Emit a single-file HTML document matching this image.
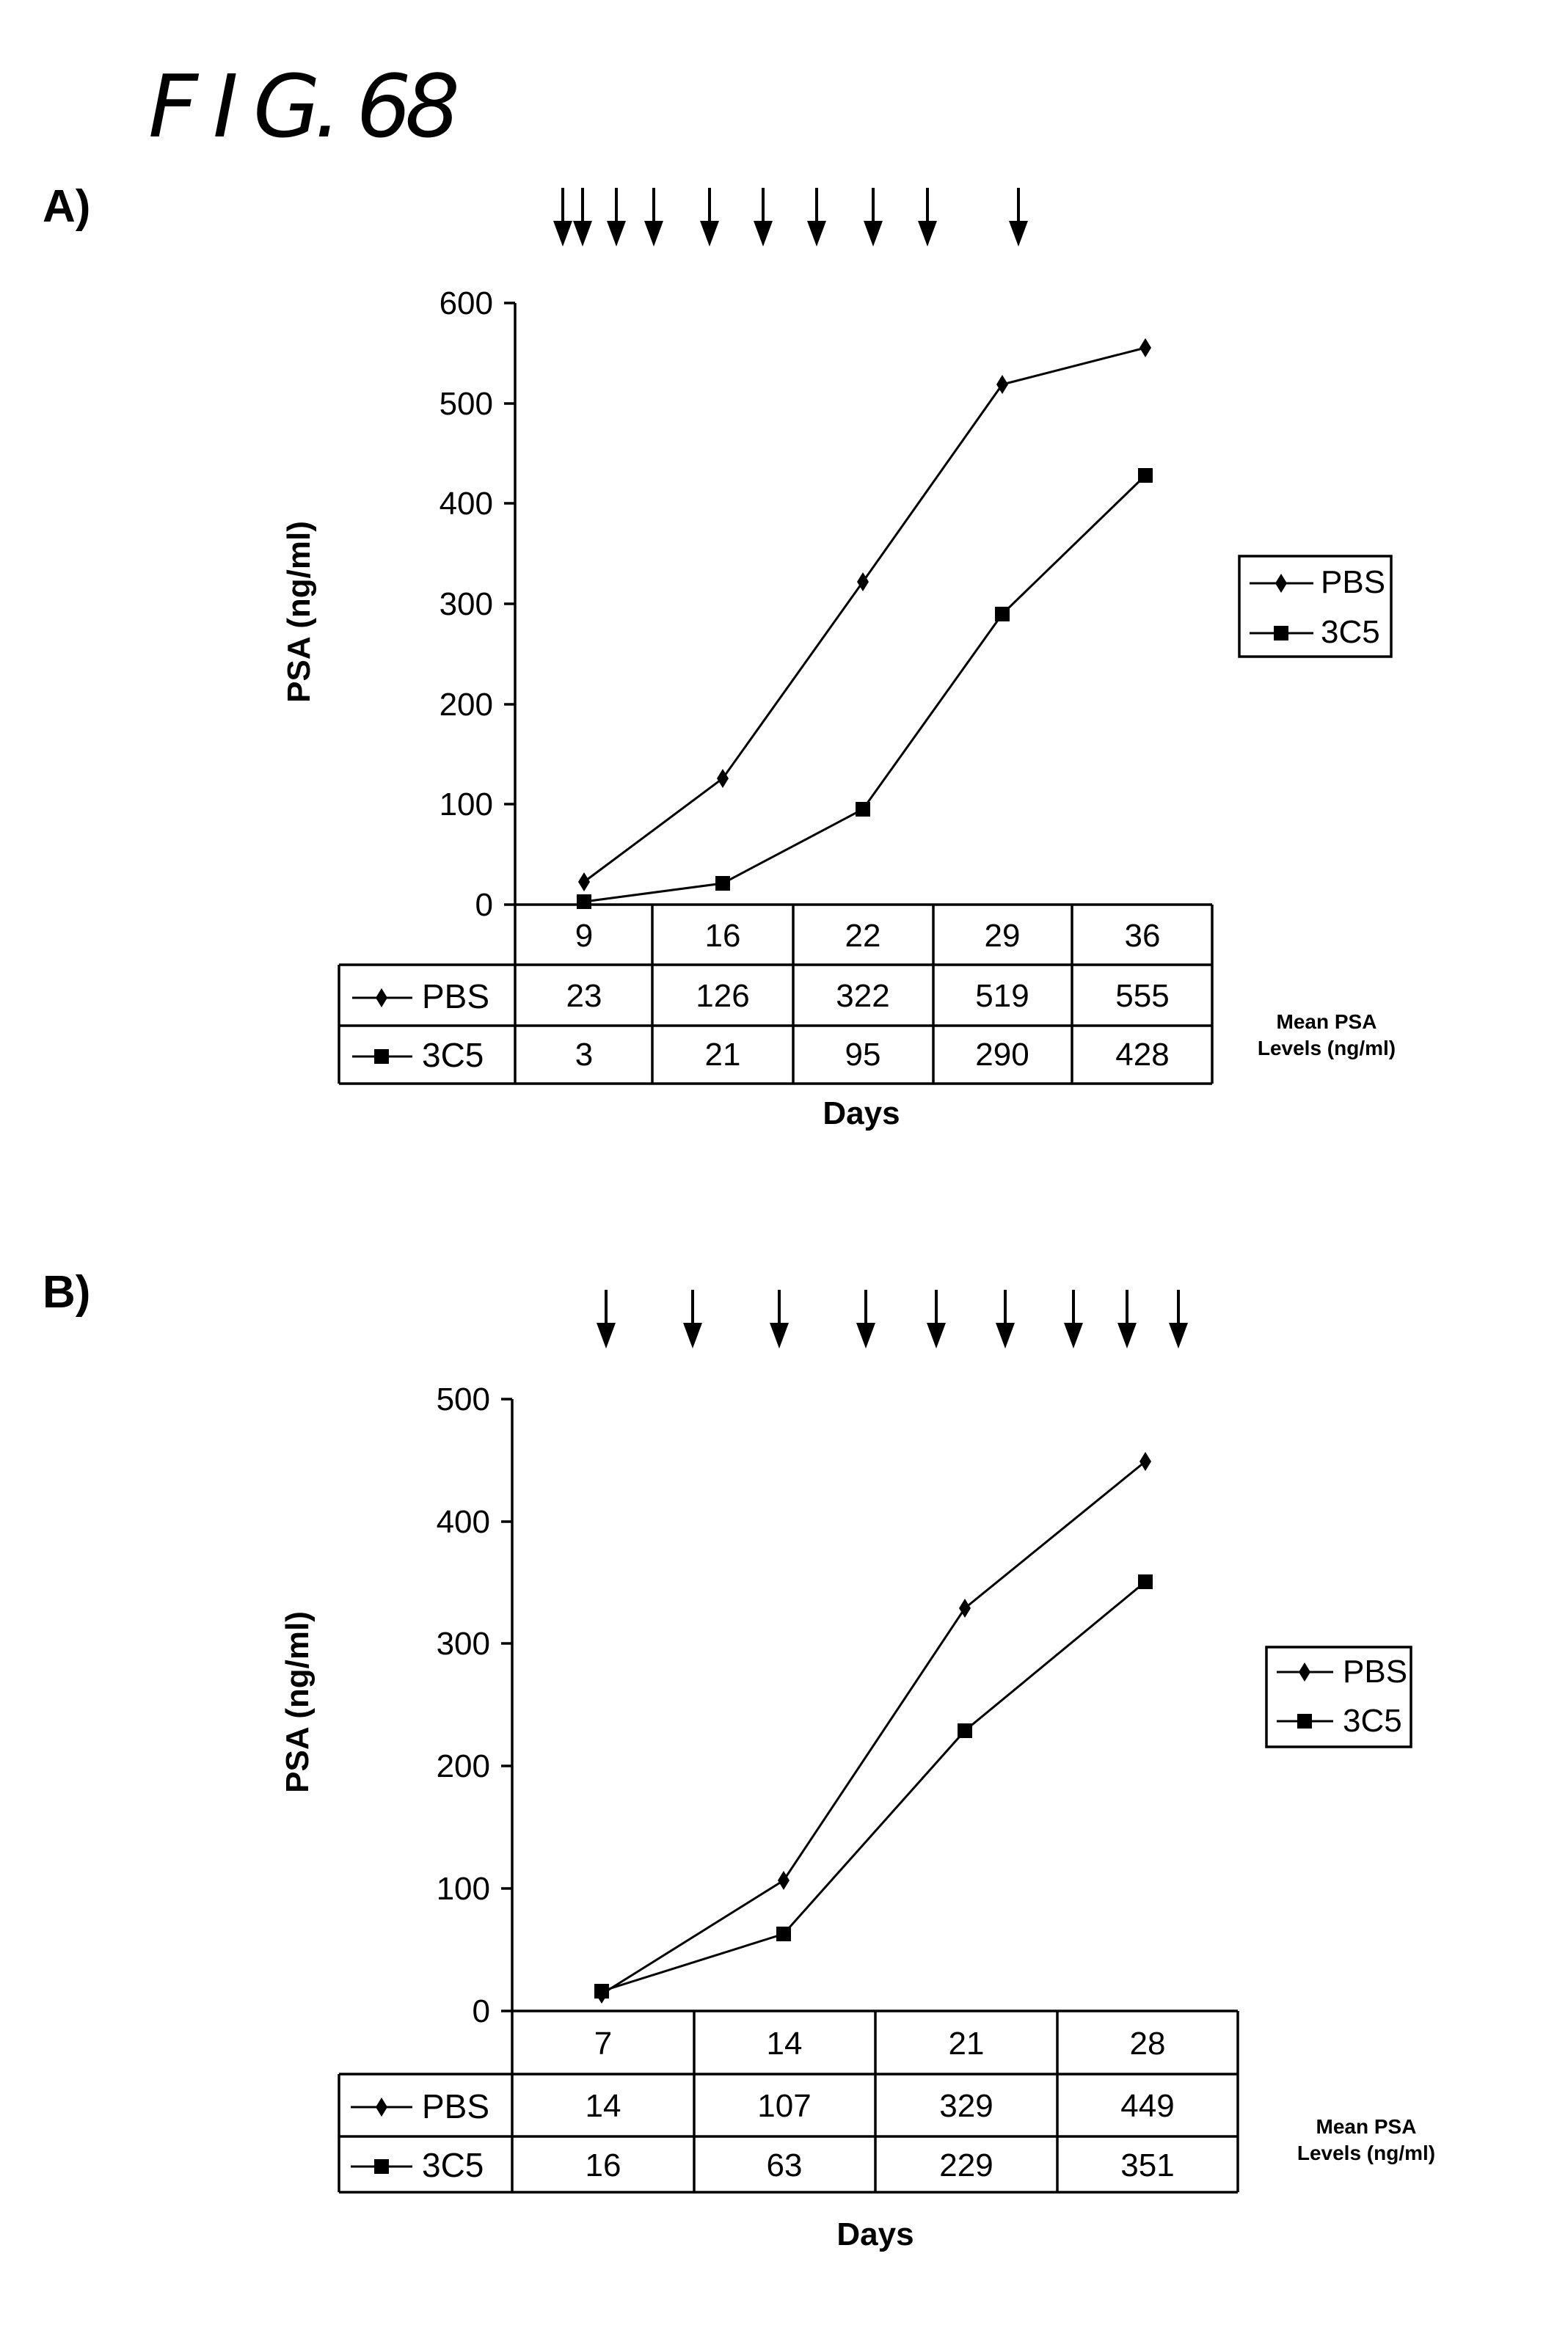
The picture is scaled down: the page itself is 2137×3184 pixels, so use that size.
<!DOCTYPE html>
<html><head><meta charset="utf-8"><style>
html,body{margin:0;padding:0;background:#fff;}
svg{display:block;}
text{font-family:"Liberation Sans",sans-serif;fill:#000;}
</style></head><body>
<svg width="2137" height="3184" viewBox="0 0 2137 3184" xmlns="http://www.w3.org/2000/svg">
<defs>
<g id="dia"><polygon points="0,-13 8,0 0,13 -8,0" fill="#000"/></g>
<g id="sq"><rect x="-10" y="-10" width="20" height="20" fill="#000"/></g>
<g id="arr"><line x1="0" y1="0" x2="0" y2="60" stroke="#000" stroke-width="4"/><polygon points="-13,45 13,45 0,80" fill="#000"/></g>
</defs>

<!-- Title -->
<text x="202" y="186" font-size="118" font-style="italic" font-weight="200" textLength="425" lengthAdjust="spacing" style="font-family:'DejaVu Sans',sans-serif">F I G. 68</text>

<!-- ============ PANEL A ============ -->
<text x="58" y="302" font-size="62" font-weight="bold">A)</text>
<g>
<use href="#arr" x="767" y="256"/><use href="#arr" x="794" y="256"/><use href="#arr" x="840" y="256"/>
<use href="#arr" x="891" y="256"/><use href="#arr" x="967" y="256"/><use href="#arr" x="1040" y="256"/>
<use href="#arr" x="1113" y="256"/><use href="#arr" x="1190" y="256"/><use href="#arr" x="1264" y="256"/>
<use href="#arr" x="1388" y="256"/>
</g>
<g stroke="#000" stroke-width="3.5" fill="none">
<line x1="702" y1="413" x2="702" y2="1477"/>
<line x1="687" y1="1233" x2="1652" y2="1233"/>
<line x1="687" y1="413" x2="702" y2="413"/><line x1="687" y1="550" x2="702" y2="550"/>
<line x1="687" y1="686" x2="702" y2="686"/><line x1="687" y1="823" x2="702" y2="823"/>
<line x1="687" y1="960" x2="702" y2="960"/><line x1="687" y1="1096" x2="702" y2="1096"/>
<line x1="1652" y1="1233" x2="1652" y2="1477"/>
<line x1="889" y1="1233" x2="889" y2="1477"/><line x1="1081" y1="1233" x2="1081" y2="1477"/>
<line x1="1272" y1="1233" x2="1272" y2="1477"/><line x1="1461" y1="1233" x2="1461" y2="1477"/>
<line x1="462" y1="1315" x2="1652" y2="1315"/><line x1="462" y1="1398" x2="1652" y2="1398"/>
<line x1="462" y1="1477" x2="1652" y2="1477"/><line x1="462" y1="1315" x2="462" y2="1477"/>
</g>
<g font-size="44" text-anchor="end">
<text x="672" y="428">600</text><text x="672" y="565">500</text><text x="672" y="701">400</text>
<text x="672" y="838">300</text><text x="672" y="975">200</text><text x="672" y="1111">100</text>
<text x="672" y="1248">0</text>
</g>
<g font-size="44" text-anchor="middle">
<text x="796" y="1290">9</text><text x="985" y="1290">16</text><text x="1176" y="1290">22</text><text x="1366" y="1290">29</text><text x="1557" y="1290">36</text>
<text x="796" y="1372">23</text><text x="985" y="1372">126</text><text x="1176" y="1372">322</text><text x="1366" y="1372">519</text><text x="1557" y="1372">555</text>
<text x="796" y="1452">3</text><text x="985" y="1452">21</text><text x="1176" y="1452">95</text><text x="1366" y="1452">290</text><text x="1557" y="1452">428</text>
</g>
<g stroke="#000" stroke-width="3"><line x1="480" y1="1360" x2="562" y2="1360"/><line x1="480" y1="1440" x2="562" y2="1440"/></g>
<use href="#dia" x="520" y="1360"/><use href="#sq" x="520" y="1440"/>
<text x="575" y="1374" font-size="46">PBS</text><text x="575" y="1454" font-size="46">3C5</text>
<polyline points="796,1202 985,1061 1176,793 1366,524 1561,474" fill="none" stroke="#000" stroke-width="3"/>
<polyline points="796,1229 985,1204 1176,1103 1366,837 1561,648" fill="none" stroke="#000" stroke-width="3"/>
<use href="#dia" x="796" y="1202"/><use href="#dia" x="985" y="1061"/><use href="#dia" x="1176" y="793"/><use href="#dia" x="1366" y="524"/><use href="#dia" x="1561" y="474"/>
<use href="#sq" x="796" y="1229"/><use href="#sq" x="985" y="1204"/><use href="#sq" x="1176" y="1103"/><use href="#sq" x="1366" y="837"/><use href="#sq" x="1561" y="648"/>
<text transform="translate(422,834) rotate(-90)" font-size="44" font-weight="bold" text-anchor="middle">PSA (ng/ml)</text>
<rect x="1689" y="758" width="207" height="137" fill="none" stroke="#000" stroke-width="3.5"/>
<g stroke="#000" stroke-width="3"><line x1="1703" y1="795" x2="1790" y2="795"/><line x1="1703" y1="863" x2="1790" y2="863"/></g>
<use href="#dia" x="1746" y="795"/><use href="#sq" x="1746" y="863"/>
<text x="1800" y="808" font-size="44">PBS</text><text x="1800" y="876" font-size="44">3C5</text>
<text x="1808" y="1402" font-size="28" font-weight="bold" text-anchor="middle">Mean PSA</text>
<text x="1808" y="1438" font-size="28" font-weight="bold" text-anchor="middle">Levels (ng/ml)</text>
<text x="1174" y="1532" font-size="44" font-weight="bold" text-anchor="middle">Days</text>

<!-- ============ PANEL B ============ -->
<text x="58" y="1782" font-size="62" font-weight="bold">B)</text>
<g>
<use href="#arr" x="826" y="1758"/><use href="#arr" x="944" y="1758"/><use href="#arr" x="1062" y="1758"/>
<use href="#arr" x="1180" y="1758"/><use href="#arr" x="1276" y="1758"/><use href="#arr" x="1370" y="1758"/>
<use href="#arr" x="1463" y="1758"/><use href="#arr" x="1536" y="1758"/><use href="#arr" x="1606" y="1758"/>
</g>
<g stroke="#000" stroke-width="3.5" fill="none">
<line x1="698" y1="1907" x2="698" y2="2988"/>
<line x1="683" y1="2741" x2="1687" y2="2741"/>
<line x1="683" y1="1907" x2="698" y2="1907"/><line x1="683" y1="2074" x2="698" y2="2074"/>
<line x1="683" y1="2240" x2="698" y2="2240"/><line x1="683" y1="2407" x2="698" y2="2407"/>
<line x1="683" y1="2574" x2="698" y2="2574"/>
<line x1="1687" y1="2741" x2="1687" y2="2988"/>
<line x1="946" y1="2741" x2="946" y2="2988"/><line x1="1193" y1="2741" x2="1193" y2="2988"/>
<line x1="1441" y1="2741" x2="1441" y2="2988"/>
<line x1="462" y1="2827" x2="1687" y2="2827"/><line x1="462" y1="2912" x2="1687" y2="2912"/>
<line x1="462" y1="2988" x2="1687" y2="2988"/><line x1="462" y1="2827" x2="462" y2="2988"/>
</g>
<g font-size="44" text-anchor="end">
<text x="668" y="1922">500</text><text x="668" y="2089">400</text><text x="668" y="2255">300</text>
<text x="668" y="2422">200</text><text x="668" y="2589">100</text><text x="668" y="2756">0</text>
</g>
<g font-size="44" text-anchor="middle">
<text x="822" y="2800">7</text><text x="1069" y="2800">14</text><text x="1317" y="2800">21</text><text x="1564" y="2800">28</text>
<text x="822" y="2885">14</text><text x="1069" y="2885">107</text><text x="1317" y="2885">329</text><text x="1564" y="2885">449</text>
<text x="822" y="2966">16</text><text x="1069" y="2966">63</text><text x="1317" y="2966">229</text><text x="1564" y="2966">351</text>
</g>
<g stroke="#000" stroke-width="3"><line x1="478" y1="2872" x2="562" y2="2872"/><line x1="478" y1="2953" x2="562" y2="2953"/></g>
<use href="#dia" x="520" y="2872"/><use href="#sq" x="520" y="2953"/>
<text x="575" y="2887" font-size="46">PBS</text><text x="575" y="2967" font-size="46">3C5</text>
<polyline points="820,2718 1068,2563 1315,2192 1561,1992" fill="none" stroke="#000" stroke-width="3"/>
<polyline points="820,2714 1068,2636 1315,2359 1561,2156" fill="none" stroke="#000" stroke-width="3"/>
<use href="#dia" x="820" y="2718"/><use href="#dia" x="1068" y="2563"/><use href="#dia" x="1315" y="2192"/><use href="#dia" x="1561" y="1992"/>
<use href="#sq" x="820" y="2714"/><use href="#sq" x="1068" y="2636"/><use href="#sq" x="1315" y="2359"/><use href="#sq" x="1561" y="2156"/>
<text transform="translate(420,2320) rotate(-90)" font-size="44" font-weight="bold" text-anchor="middle">PSA (ng/ml)</text>
<rect x="1726" y="2245" width="197" height="136" fill="none" stroke="#000" stroke-width="3.5"/>
<g stroke="#000" stroke-width="3"><line x1="1740" y1="2279" x2="1817" y2="2279"/><line x1="1740" y1="2346" x2="1817" y2="2346"/></g>
<use href="#dia" x="1778" y="2279"/><use href="#sq" x="1778" y="2346"/>
<text x="1830" y="2293" font-size="44">PBS</text><text x="1830" y="2360" font-size="44">3C5</text>
<text x="1862" y="2908" font-size="28" font-weight="bold" text-anchor="middle">Mean PSA</text>
<text x="1862" y="2944" font-size="28" font-weight="bold" text-anchor="middle">Levels (ng/ml)</text>
<text x="1193" y="3060" font-size="44" font-weight="bold" text-anchor="middle">Days</text>
</svg>
</body></html>
